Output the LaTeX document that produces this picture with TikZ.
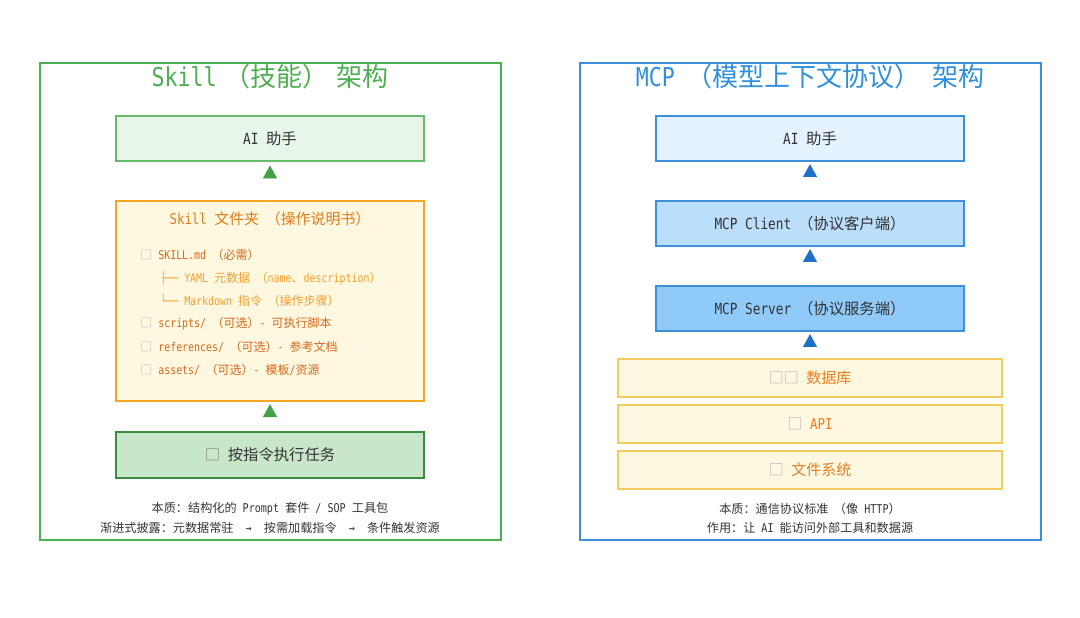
\documentclass[tikz,border=0pt]{standalone}
\usepackage{fontspec}
\setmainfont{Noto Sans CJK SC}
\newfontfamily\lmfont[FakeStretch=0.83]{DejaVu Sans Mono}
\newcommand{\La}[1]{{\lmfont #1}}
\newcommand{\LP}{\hspace{0.45em}（}
\newcommand{\RP}{）\hspace{0.45em}}
\newcommand{\RPs}{）}
\usetikzlibrary{arrows.meta}
\definecolor{gframe}{HTML}{4CAF50}
\definecolor{gtitle}{HTML}{4CAF50}
\definecolor{gfill}{HTML}{E8F5E9}
\definecolor{gdark}{HTML}{388E3C}
\definecolor{gfill2}{HTML}{C8E6C9}
\definecolor{gtri}{HTML}{43A047}
\definecolor{ofill}{HTML}{FFF8E1}
\definecolor{oborder}{HTML}{F5A623}
\definecolor{otitle}{HTML}{E07B1A}
\definecolor{odark}{HTML}{D2691E}
\definecolor{olight}{HTML}{F0A030}
\definecolor{bframe}{HTML}{3D8FD9}
\definecolor{btitle}{HTML}{2F8FDB}
\definecolor{bfill1}{HTML}{E3F2FD}
\definecolor{bfill2}{HTML}{BBDEFB}
\definecolor{bfill3}{HTML}{90CAF9}
\definecolor{btri}{HTML}{1E6FC8}
\definecolor{yborder}{HTML}{F2CD5C}
\definecolor{ytext}{HTML}{E67E22}
\definecolor{txt}{HTML}{333333}
\definecolor{tofu}{HTML}{B0B0B0}
\tikzset{
  frame/.style={line width=1.5pt},
  ptitle/.style={font=\fontsize{19.5}{22}\selectfont},
  box/.style={draw, line width=0.9pt, minimum width=231pt, minimum height=33.75pt, font=\fontsize{11.5}{13}\selectfont, text=txt},
  dbbox/.style={draw=yborder, fill=ofill, line width=1pt, minimum width=288pt, minimum height=28.5pt, font=\fontsize{11.25}{13}\selectfont, text=ytext},
  item/.style={anchor=west, font=\fontsize{9}{11}\selectfont, inner sep=0pt},
  note/.style={font=\fontsize{9.1}{10}\selectfont, text=txt, inner sep=0pt},
  tri/.style={line width=0.01pt, draw=white, -{Triangle[width=10.5pt,length=9.5pt,color=#1,fill=#1]}},
}
\newcommand{\tf}{{\color{tofu}□}}
\begin{document}
\begin{tikzpicture}[x=0.75pt,y=-0.75pt]
\useasboundingbox (0,0) rectangle (1080,617);
% left panel
\draw[frame, gframe] (40,63) rectangle (501,540);
\node[ptitle, text=gtitle] (ltitle) at (270,77) {\La{Skill}\hspace{0.3em}（技能）\hspace{0.3em}架构};
\node[box, draw=gframe!85!white, fill=gfill] (lai) at (270,138.5) {\La{AI }助手};
\node[draw=oborder, fill=ofill, line width=1pt, minimum width=231pt, minimum height=150pt] (folder) at (270,301) {};
\node[font=\fontsize{11.2}{13}\selectfont, text=otitle] (ftitle) at (270,219) {\La{Skill }文件夹\LP 操作说明书\RPs};
\node[item, text=odark] (i1) at (140,255) {\tf\La{ SKILL.md}\LP 必需\RPs};
\node[item, text=olight] (i2) at (160,278) {\La{├── YAML }元数据\LP\La{name}、\La{description}\RPs};
\node[item, text=olight] (i3) at (160,300.5) {\La{└── Markdown }指令\LP 操作步骤\RPs};
\node[item, text=odark] (i4) at (140,324) {\tf\La{ scripts/}\LP 可选\RPs\La{- }可执行脚本};
\node[item, text=odark] (i5) at (140,347) {\tf\La{ references/}\LP 可选\RPs\La{- }参考文档};
\node[item, text=odark] (i6) at (140,370) {\tf\La{ assets/}\LP 可选\RPs\La{- }模板\La{/}资源};
\node[box, draw=gdark, fill=gfill2, minimum height=34.5pt, font=\fontsize{11.5}{13}\selectfont, text=txt] (exec) at (270,455) {{\color{gray}□}\La{ }按指令执行任务};
\node[note] (ln1) at (270,509) {本质：结构化的\La{ Prompt }套件\La{ / SOP }工具包};
\node[note] (ln2) at (270,528) {渐进式披露：元数据常驻\La{\ \ →\ \ }按需加载指令\La{\ \ →\ \ }条件触发资源};
% right panel
\draw[frame, bframe] (580,63) rectangle (1041,540);
\node[ptitle, text=btitle] (rtitle) at (810,77) {\La{MCP}\LP 模型上下文协议\RP 架构};
\node[box, draw=bframe, fill=bfill1] (rai) at (810,138.5) {\La{AI }助手};
\node[box, draw=bframe, fill=bfill2] (client) at (810,223.5) {\La{MCP Client}\LP 协议客户端\RPs};
\node[box, draw=bframe, fill=bfill3] (server) at (810,308.5) {\La{MCP Server}\LP 协议服务端\RPs};
\node[dbbox] (db) at (810,378) {{\color{tofu}□□}\La{ }数据库};
\node[dbbox] (api) at (810,424) {{\color{tofu}□}\La{ API}};
\node[dbbox] (fs) at (810,470) {{\color{tofu}□}\La{ }文件系统};
\node[note] (rn1) at (810,509) {本质：通信协议标准\LP 像\La{ HTTP}\RPs};
\node[note] (rn2) at (810,528) {作用：让\La{ AI }能访问外部工具和数据源};
% connectors (triangles only)
\draw[tri=gtri] (folder.north) -- ([yshift=-3pt]lai.south);
\draw[tri=gtri] (exec.north) -- ([yshift=-2pt]folder.south);
\draw[tri=btri] (client.north) -- ([yshift=-2pt]rai.south);
\draw[tri=btri] (server.north) -- ([yshift=-2pt]client.south);
\draw[tri=btri] (db.north) -- ([yshift=-2pt]server.south);
\end{tikzpicture}
\end{document}
